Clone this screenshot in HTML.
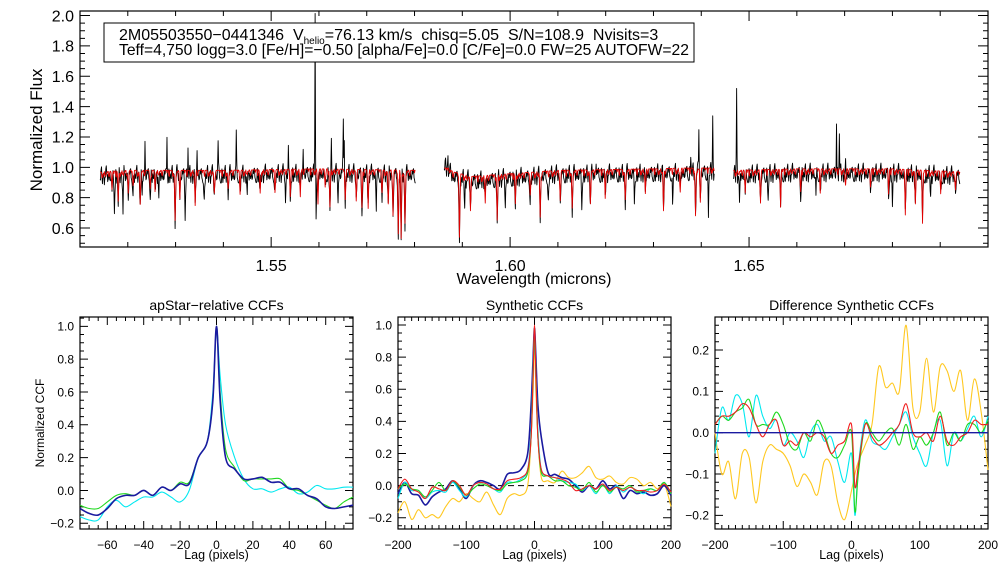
<!DOCTYPE html>
<html><head><meta charset="utf-8">
<style>
html,body{margin:0;padding:0;background:#fff;}
svg{display:block;font-family:"Liberation Sans",sans-serif;}
</style></head>
<body>
<svg id="c" width="1008" height="576" viewBox="0 0 1008 576"></svg>
<script>
// ---------- DATA ----------
const chipRanges = [[1.5142,1.5802],[1.5862,1.6427],[1.6467,1.6941]];
const contKnotsW = [1.5142,1.52,1.54,1.56,1.5802,1.5862,1.588,1.592,1.61,1.63,1.6427,1.6467,1.66,1.68,1.6941];
const contKnotsF = [0.95,0.96,0.96,0.97,0.96,1.02,0.95,0.92,0.96,0.97,0.98,0.96,0.97,0.97,0.95];
const modelLineW = [1.5167,1.5180,1.5201,1.5211,1.5226,1.5247,1.5257,1.5299,1.5309,1.5341,1.5381,1.5410,1.5435,1.5477,1.5508,1.5540,1.5561,1.5598,1.5613,1.5623,1.5655,1.5678,1.5690,1.5703,1.5732,1.5745,1.5755,1.5766,1.5772,1.5780,
 1.5894,1.5917,1.5948,1.5973,1.6011,1.6042,1.6063,1.6105,1.6130,1.6168,1.6199,1.6241,1.6283,1.6321,1.6356,1.6388,1.6398,
 1.6492,1.6524,1.6566,1.6608,1.6649,1.6702,1.6754,1.6792,1.6827,1.6848,1.6863,1.6901,1.6932];
const modelLineD = [0.12,0.2,0.15,0.1,0.2,0.12,0.1,0.33,0.15,0.22,0.15,0.12,0.12,0.15,0.12,0.18,0.15,0.2,0.12,0.25,0.2,0.18,0.25,0.22,0.15,0.2,0.3,0.42,0.45,0.35,
 0.42,0.2,0.15,0.3,0.2,0.15,0.3,0.2,0.25,0.2,0.15,0.2,0.15,0.27,0.15,0.3,0.2,
 0.15,0.2,0.25,0.15,0.12,0.1,0.12,0.15,0.3,0.2,0.35,0.15,0.12];
const spikeW = [1.5236,1.5282,1.5326,1.5345,1.5389,1.5427,1.5536,1.5567,1.5592,1.5626,1.5651,1.5653,1.5870,1.6180,1.6378,1.6395,1.6424,1.6474,1.6683,1.6689,1.6702,1.6830];
const spikeH = [0.2,0.28,0.17,0.15,0.22,0.26,0.16,0.15,1.05,0.17,0.38,0.28,0.1,0.1,0.15,0.27,0.35,0.55,0.38,0.28,0.12,0.08];
const blackDipW = [1.5172,1.5190,1.5230,1.5265,1.5320,1.5360,1.5450,1.5530,1.5594,1.5640,1.5720,1.5905,1.5990,1.6080,1.6150,1.6260,1.6340,1.6415,1.6480,1.6540,1.6640,1.6800,1.6880];
const blackDipD = [0.2,0.25,0.15,0.2,0.25,0.2,0.18,0.2,0.3,0.2,0.22,0.2,0.2,0.2,0.2,0.18,0.2,0.25,0.25,0.18,0.15,0.2,0.15];
const residual = [0.6,-0.8,0.3,1,-0.4,-1,0.5,0.1,-0.6,0.9,-0.2,-0.9,0.4,0.8,-0.5,0.2,-1,0.7,0,-0.3,1,-0.7,0.3,-0.1,0.6,-0.9,0.2,0.8,-0.4,-0.6,0.9,0.1,-0.8,0.5,-0.2,0.4,-0.5];

const lag1 = [-75,-70,-65,-60,-55,-50,-45,-40,-35,-30,-25,-20,-15,-10,-5,-2,0,2,5,10,15,20,25,30,35,40,45,50,55,60,65,70,75];
const a1Navy = [-0.11,-0.14,-0.15,-0.11,-0.05,-0.03,-0.03,0.0,-0.03,0.02,0.0,0.04,0.04,0.2,0.3,0.55,1.0,0.55,0.2,0.13,0.07,0.07,0.08,0.05,0.05,0.01,0.01,-0.03,-0.05,-0.1,-0.11,-0.1,-0.09];
const a1Green = [-0.09,-0.11,-0.11,-0.07,-0.03,-0.02,-0.03,0.0,-0.03,0.02,0.0,0.05,0.05,0.2,0.3,0.55,1.0,0.6,0.25,0.14,0.06,0.07,0.07,0.07,0.07,0.01,0.0,-0.03,-0.06,-0.09,-0.11,-0.07,-0.04];
const a1Cyan = [-0.16,-0.18,-0.18,-0.1,-0.06,-0.1,-0.07,-0.04,-0.04,-0.01,-0.04,-0.07,0.0,0.2,0.3,0.6,0.98,0.7,0.4,0.2,0.07,0.01,0.01,-0.01,0.01,0.02,-0.02,-0.01,0.03,0.01,0.01,0.02,0.02];

const lag2 = [-200,-190,-180,-170,-160,-150,-140,-130,-120,-110,-100,-90,-80,-70,-60,-50,-40,-30,-20,-10,-5,-2,0,2,5,10,20,30,40,50,60,70,80,90,100,110,120,130,140,150,160,170,180,190,200];
const s2Orange = [-0.17,-0.1,-0.21,-0.15,-0.2,-0.18,-0.2,-0.13,-0.08,-0.1,-0.05,-0.08,-0.1,-0.04,-0.12,-0.18,-0.08,-0.05,-0.06,0.0,0.3,0.6,0.9,0.6,0.3,0.05,0.03,0.02,0.09,0.05,0.05,0.08,0.12,0.05,0.04,0.06,0.02,0.01,0.05,0.04,0.0,0.02,-0.02,0.01,-0.13];
const s2Cyan = [-0.08,0.02,-0.03,-0.03,-0.08,-0.04,-0.03,-0.04,0.02,-0.03,-0.07,0.0,0.02,0.01,-0.02,-0.04,0.02,0.02,0.04,0.1,0.35,0.75,0.95,0.7,0.35,0.1,0.06,0.05,0.03,0.02,0.01,-0.03,0.0,-0.05,0.01,-0.05,0.0,-0.04,-0.01,-0.03,-0.05,-0.02,-0.03,0.02,-0.05];
const s2Green = [-0.02,0.01,-0.02,-0.03,-0.07,-0.03,0.02,-0.03,0.03,-0.01,-0.06,-0.02,0.01,0.0,-0.02,-0.03,0.01,0.02,0.03,0.08,0.3,0.7,0.98,0.7,0.3,0.08,0.06,0.03,0.03,0.0,-0.01,-0.03,0.02,-0.04,0.0,-0.04,-0.01,-0.02,0.0,-0.04,-0.03,-0.02,-0.03,0.02,-0.05];
const s2Red = [-0.02,0.04,-0.02,-0.04,-0.08,-0.01,-0.02,-0.03,0.03,0.0,-0.06,0.0,0.02,0.01,-0.02,-0.02,0.03,0.04,0.05,0.1,0.3,0.7,1.0,0.7,0.3,0.1,0.06,0.05,0.04,0.02,-0.03,-0.02,0.0,-0.02,0.01,-0.03,-0.01,-0.03,-0.01,-0.03,-0.03,-0.04,-0.03,0.01,-0.04];
const s2Navy = [-0.05,0.02,-0.05,-0.06,-0.12,-0.07,-0.04,-0.02,0.03,-0.02,-0.08,0.0,0.03,0.02,0.0,-0.02,0.07,0.08,0.1,0.2,0.5,0.8,0.98,0.8,0.5,0.3,0.08,0.07,0.05,0.04,0.0,-0.04,0.0,-0.02,0.03,-0.02,0.0,-0.08,-0.03,-0.05,-0.04,-0.06,-0.05,0.0,-0.06];

const lag3 = [-200,-190,-180,-170,-160,-150,-140,-130,-120,-110,-100,-90,-80,-70,-60,-50,-40,-30,-20,-10,0,5,10,20,30,40,50,60,70,80,90,100,110,120,130,140,150,160,170,180,190,200];
const d3Orange = [0.0,-0.1,-0.07,-0.16,-0.05,-0.06,-0.17,-0.07,-0.03,-0.04,-0.05,-0.08,-0.13,-0.1,-0.12,-0.15,-0.07,-0.08,-0.17,-0.21,-0.14,-0.1,-0.07,-0.03,0.02,0.16,0.11,0.12,0.1,0.26,0.06,0.05,0.18,0.05,0.16,0.15,0.1,0.15,0.03,0.13,0.05,-0.09];
const d3Cyan = [-0.05,0.06,0.03,0.09,0.07,-0.01,0.09,0.04,0.01,0.03,-0.03,0.0,-0.02,-0.06,0.0,0.02,-0.02,-0.01,-0.07,-0.12,-0.05,-0.2,-0.08,0.03,-0.02,-0.03,-0.04,-0.01,0.02,0.05,-0.01,-0.05,-0.08,0.0,0.03,-0.08,0.0,-0.02,0.01,0.04,-0.01,0.04];
const d3Green = [0.02,0.04,0.03,0.05,0.06,0.08,0.02,0.02,0.02,0.05,0.02,-0.03,-0.04,0.0,-0.02,0.03,0.0,-0.05,-0.06,-0.03,0.0,-0.19,-0.1,0.02,0.0,-0.02,0.0,0.01,-0.03,0.02,-0.04,-0.01,-0.03,0.0,0.05,-0.03,0.0,-0.02,0.02,0.02,0.0,0.03];
const d3Red = [0.02,0.04,0.04,0.05,0.07,0.06,0.02,-0.01,0.02,0.03,-0.03,-0.02,-0.03,0.0,-0.01,0.0,-0.01,-0.05,-0.03,-0.02,0.02,-0.13,-0.08,0.02,-0.01,-0.03,-0.02,0.0,0.02,0.07,0.0,-0.01,0.0,-0.02,0.04,-0.02,-0.03,-0.01,0.0,0.03,0.02,0.02];
const d3Navy = [0,0,0,0,0,0,0,0,0,0,0,0,0,0,0,0,0,0,0,0,0,0,0,0,0,0,0,0,0,0,0,0,0,0,0,0,0,0,0,0,0,0];

// ---------- RENDER ----------
const NS="http://www.w3.org/2000/svg";
const svg=document.getElementById('c');
function el(tag,attrs,parent){const e=document.createElementNS(NS,tag);for(const k in attrs)e.setAttribute(k,attrs[k]);(parent||svg).appendChild(e);return e;}
function txt(s,x,y,size,anchor,parent,rot){const t=el('text',{x:x,y:y,'font-size':size,'text-anchor':anchor||'middle',fill:'#000'},parent);if(rot)t.setAttribute('transform','rotate(-90 '+x+' '+y+')');t.textContent=s;return t;}

function axes(g,box,xr,yr,xMaj,xMin,yMaj,yMin,xFmt,yFmt,fs,majL,minL,skipEdge){
  const sx=v=>box.x0+(v-xr[0])/(xr[1]-xr[0])*(box.x1-box.x0);
  const sy=v=>box.y1-(v-yr[0])/(yr[1]-yr[0])*(box.y1-box.y0);
  el('rect',{x:box.x0,y:box.y0,width:box.x1-box.x0,height:box.y1-box.y0,fill:'none',stroke:'#000','stroke-width':1.2},g);
  let d='';
  const e=1e-9;
  for(let v=Math.ceil(xr[0]/xMin-e)*xMin;v<=xr[1]+e;v+=xMin){const X=sx(v);const L=Math.abs(Math.round(v/xMaj)*xMaj-v)<xMin/10?majL:minL;d+=`M${X},${box.y1}v${-L}M${X},${box.y0}v${L}`;}
  for(let v=Math.ceil(yr[0]/yMin-e)*yMin;v<=yr[1]+e;v+=yMin){const Y=sy(v);const L=Math.abs(Math.round(v/yMaj)*yMaj-v)<yMin/10?majL:minL;d+=`M${box.x0},${Y}h${L}M${box.x1},${Y}h${-L}`;}
  el('path',{d:d,stroke:'#000','stroke-width':1,fill:'none'},g);
  for(let v=Math.ceil(xr[0]/xMaj-e)*xMaj;v<=xr[1]+e;v+=xMaj){if(skipEdge&&Math.abs(v-xr[1])<1e-6)continue;const t=txt(xFmt(v),sx(v),box.y1+fs+8,fs,'middle',g);}
  for(let v=Math.ceil(yr[0]/yMaj-e)*yMaj;v<=yr[1]+e;v+=yMaj){const t=txt(yFmt(v),box.x0-6,sy(v)+fs*0.36,fs,'end',g);}
  return {sx,sy};
}
function line(g,sx,sy,xs,ys,color,w,name,dash,smooth){
  const P=xs.map((x,i)=>[sx(x),sy(ys[i])]);
  let d='M'+P[0][0].toFixed(2)+','+P[0][1].toFixed(2);
  for(let i=1;i<P.length;i++){
    if(smooth){
      const p0=P[Math.max(i-2,0)],p1=P[i-1],p2=P[i],p3=P[Math.min(i+1,P.length-1)];
      const c1=[p1[0]+(p2[0]-p0[0])/6,p1[1]+(p2[1]-p0[1])/6],c2=[p2[0]-(p3[0]-p1[0])/6,p2[1]-(p3[1]-p1[1])/6];
      d+=`C${c1[0].toFixed(2)},${c1[1].toFixed(2)} ${c2[0].toFixed(2)},${c2[1].toFixed(2)} ${p2[0].toFixed(2)},${p2[1].toFixed(2)}`;
    } else d+='L'+P[i][0].toFixed(2)+','+P[i][1].toFixed(2);
  }
  const p=el('path',{d:d,stroke:color,'stroke-width':w,fill:'none','stroke-linejoin':'round'},g);
  if(dash)p.setAttribute('stroke-dasharray',dash);
  
  
  return p;
}

// Top spectrum panel
const gTop=el('g',{});


const T=axes(gTop,{x0:80,x1:988,y0:11,y1:247},[1.51,1.70],[0.475,2.03],0.05,0.01,0.2,0.05,v=>v.toFixed(2),v=>v.toFixed(1),16,10,5,true);
function cont(w){for(let i=0;i<contKnotsW.length-1;i++){if(w>=contKnotsW[i]&&w<=contKnotsW[i+1]){const f=(w-contKnotsW[i])/(contKnotsW[i+1]-contKnotsW[i]);return contKnotsF[i]+f*(contKnotsF[i+1]-contKnotsF[i]);}}return 0.97;}
function prof(w,W,D,wd){let s=0;for(let i=0;i<W.length;i++){const z=(w-W[i])/wd;if(Math.abs(z)<4)s+=D[i]*Math.exp(-z*z);}return s;}
chipRanges.forEach((r,ci)=>{
  const ws=[],bl=[],md=[];let k=0;
  for(let w=r[0];w<=r[1];w+=0.0001){
    ws.push(w);
    const rr=residual[k%residual.length],r2=residual[(k*7+3)%residual.length],r3=residual[(k*13+5)%residual.length];
    const m=cont(w)+0.02-prof(w,modelLineW,modelLineD,0.00012)-Math.max(0,r3)*0.04;
    md.push(Math.min(m,0.995));
    const b=cont(w)-prof(w,modelLineW,modelLineD,0.00012)*0.9-prof(w,blackDipW,blackDipD,0.0001)+prof(w,spikeW,spikeH,0.00008)+rr*0.035+r2*0.03+(r3<-0.7?-0.08:0);
    bl.push(b);k++;
  }
  line(gTop,T.sx,T.sy,ws,bl,'#000',0.9,'observed-spectrum-chip-'+(ci+1));
  line(gTop,T.sx,T.sy,ws,md,'#e00000',0.9,'model-spectrum-chip-'+(ci+1));
});
const xt=txt('Wavelength (microns)',534,284,16,'middle',gTop);
const yt=txt('Normalized Flux',42,130,17,'middle',gTop,true);
const lb=el('g',{},gTop);
el('rect',{x:104,y:23,width:590,height:39,fill:'#fff',stroke:'#000','stroke-width':1},lb);
const t1=el('text',{x:119,y:40,'font-size':16,fill:'#000',style:'white-space:pre'},lb);
t1.innerHTML='2M05503550−0441346  V<tspan font-size="10" dy="4">helio</tspan><tspan dy="-4">=76.13 km/s  chisq=5.05  S/N=108.9  Nvisits=3</tspan>';
const t2=el('text',{x:119,y:55,'font-size':16,fill:'#000',textLength:570,lengthAdjust:'spacingAndGlyphs'},lb);
t2.textContent='Teff=4,750 logg=3.0 [Fe/H]=−0.50 [alpha/Fe]=0.0 [C/Fe]=0.0 FW=25 AUTOFW=22';

// Bottom panels
const fmtI=v=>String(Math.round(v)).replace('-','−');
const fmt1=v=>(Math.abs(v)<1e-9?0:v).toFixed(1).replace('-','−');
function panel(name,title,box,xr,yr,xMaj,xMin,yMaj,yMin,yLab){
  const g=el('g',{});
  const A=axes(g,box,xr,yr,xMaj,xMin,yMaj,yMin,fmtI,fmt1,12,8,4,false);
  const tt=txt(title,(box.x0+box.x1)/2,310,14,'middle',g);
  const xl=txt('Lag (pixels)',(box.x0+box.x1)/2,559,12.5,'middle',g);
  if(yLab){const yl=txt(yLab,44,423,12,'middle',g,true);}
  return {g,A};
}
const P1=panel('apstar-ccf-panel','apStar−relative CCFs',{x0:80,x1:353,y0:317,y1:529},[-75,75],[-0.235,1.057],20,5,0.2,0.05,'Normalized CCF');
line(P1.g,P1.A.sx,P1.A.sy,lag1,a1Cyan,'#00e8f0',1.1,'ccf-cyan',null,true);
line(P1.g,P1.A.sx,P1.A.sy,lag1,a1Green,'#20d820',1.1,'ccf-green',null,true);
line(P1.g,P1.A.sx,P1.A.sy,lag1,a1Navy,'#1a1aa0',1.6,'ccf-navy',null,true);

const P2=panel('synthetic-ccf-panel','Synthetic CCFs',{x0:398,x1:671,y0:317,y1:529},[-200,200],[-0.27,1.05],100,10,0.2,0.05,null);
line(P2.g,P2.A.sx,P2.A.sy,[-200,200],[0,0],'#000',1,'zero-line','6,4');
line(P2.g,P2.A.sx,P2.A.sy,lag2,s2Orange,'#ffc820',1.1,'ccf-orange',null,true);
line(P2.g,P2.A.sx,P2.A.sy,lag2,s2Navy,'#1a1aa0',1.6,'ccf-navy',null,true);
line(P2.g,P2.A.sx,P2.A.sy,lag2,s2Cyan,'#00e8f0',1.1,'ccf-cyan',null,true);
line(P2.g,P2.A.sx,P2.A.sy,lag2,s2Green,'#20d820',1.1,'ccf-green',null,true);
line(P2.g,P2.A.sx,P2.A.sy,lag2,s2Red,'#f02020',1.1,'ccf-red',null,true);

const P3=panel('difference-ccf-panel','Difference Synthetic CCFs',{x0:715,x1:988,y0:317,y1:529},[-200,200],[-0.233,0.28],100,10,0.1,0.02,null);
line(P3.g,P3.A.sx,P3.A.sy,lag3,d3Orange,'#ffc820',1.1,'diff-orange',null,true);
line(P3.g,P3.A.sx,P3.A.sy,lag3,d3Cyan,'#00e8f0',1.1,'diff-cyan',null,true);
line(P3.g,P3.A.sx,P3.A.sy,lag3,d3Green,'#20d820',1.1,'diff-green',null,true);
line(P3.g,P3.A.sx,P3.A.sy,lag3,d3Red,'#f02020',1.1,'diff-red',null,true);
line(P3.g,P3.A.sx,P3.A.sy,lag3,d3Navy,'#1a1aa0',1.3,'diff-navy');
</script>
</body></html>
